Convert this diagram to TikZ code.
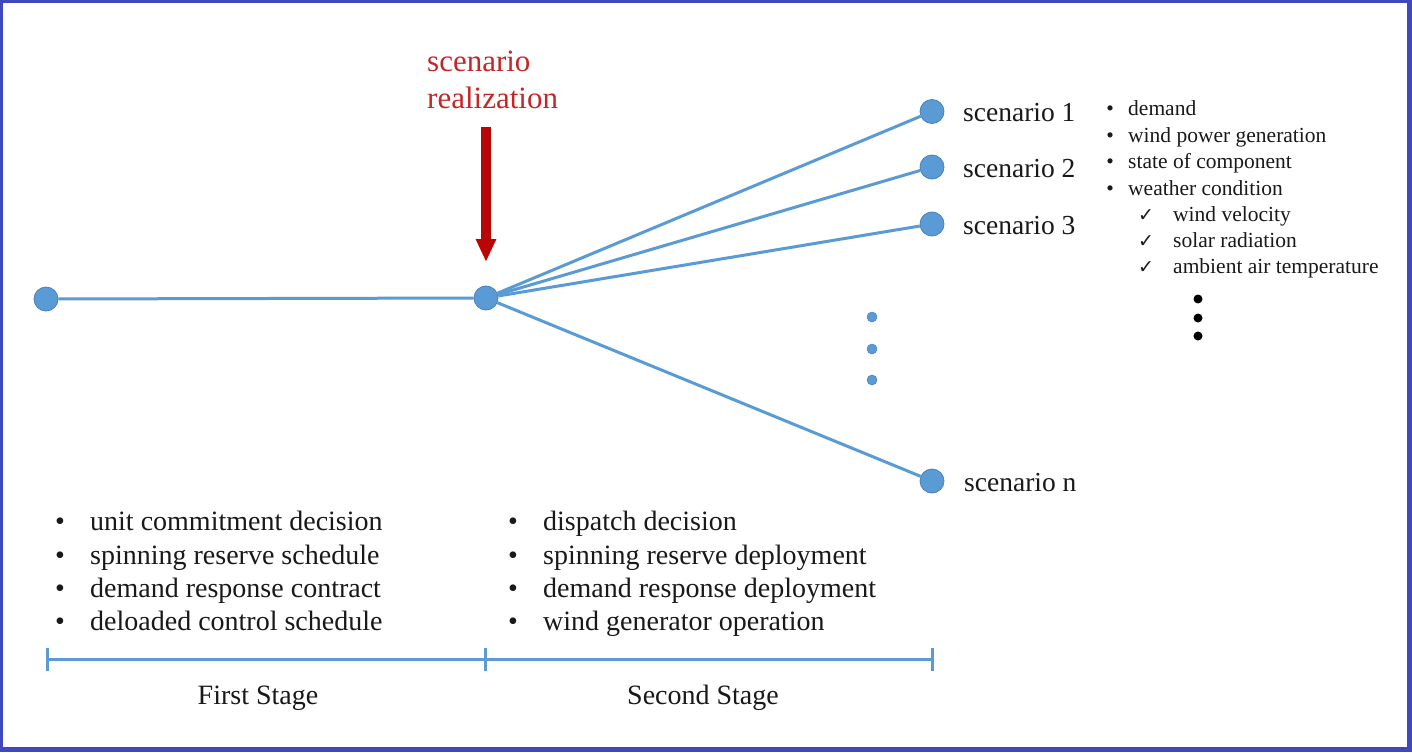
\documentclass[tikz,border=0pt]{standalone}
\usepackage{fontspec}
\setmainfont{Liberation Serif}
\newfontfamily\symfont{DejaVu Sans}
\usetikzlibrary{arrows.meta}
\definecolor{frameblue}{RGB}{64,72,192}
\definecolor{lineblue}{RGB}{91,155,213}
\definecolor{nodeedge}{RGB}{72,128,190}
\definecolor{arrred}{RGB}{185,5,5}
\definecolor{txtred}{RGB}{195,40,40}
\definecolor{txt}{RGB}{25,25,25}
\begin{document}
\begin{tikzpicture}[x=1pt,y=-1pt,
  bignode/.style={circle,fill=lineblue,draw=nodeedge,line width=0.8pt,minimum size=24pt,inner sep=0pt},
  smalldot/.style={circle,fill=lineblue,draw=nodeedge,line width=0.5pt,minimum size=10pt,inner sep=0pt},
  blackdot/.style={circle,fill=black,minimum size=9pt,inner sep=0pt},
  branch/.style={draw=lineblue,line width=3pt},
  lbl/.style={anchor=base west,inner sep=0pt,text=txt},
  bul/.style={anchor=base,inner sep=0pt,text=txt},
  bigtext/.style={font=\fontsize{28}{33}\selectfont},
  scentext/.style={font=\fontsize{27.5}{33}\selectfont},
  smalltext/.style={font=\fontsize{21.5}{26}\selectfont},
  redtext/.style={anchor=base west,inner sep=0pt,text=txtred,font=\fontsize{31}{36}\selectfont}]
\fill[frameblue] (0,0) rectangle (1412,752);
\fill[white] (3,3) rectangle (1407,747);
\useasboundingbox (0,0) rectangle (1412,752);

% tree nodes
\node[bignode] (root) at (46,299) {};
\node[bignode] (mid) at (486,298) {};
\node[bignode] (s1) at (932,111.5) {};
\node[bignode] (s2) at (932,167) {};
\node[bignode] (s3) at (932,224) {};
\node[bignode] (sn) at (932,481) {};
\draw[branch] (root) -- (mid);
\draw[branch] (mid) -- (s1);
\draw[branch] (mid) -- (s2);
\draw[branch] (mid) -- (s3);
\draw[branch] (mid) -- (sn);

% blue ellipsis dots
\node[smalldot] (d1) at (872,317) {};
\node[smalldot] (d2) at (872,349) {};
\node[smalldot] (d3) at (872,380) {};

% scenario labels
\node[lbl,scentext] (l1) at (963,121.5) {scenario 1};
\node[lbl,scentext] (l2) at (963,177) {scenario 2};
\node[lbl,scentext] (l3) at (963,234) {scenario 3};
\node[lbl,scentext] (ln) at (964,491) {scenario n};

% red arrow and label
\node[redtext] (sr1) at (427,71) {scenario};
\node[redtext] (sr2) at (427,108) {realization};
\coordinate (atop) at (486,127);
\coordinate (atip) at (486,262);
\draw[arrred,line width=9.5pt,-{Triangle[width=19pt,length=23pt]}] (atop) -- (atip);

% right list
\foreach \t [count=\i] in {demand, wind power generation, state of component, weather condition} {
  \node[bul,smalltext] (rb\i) at ({1110},{89+26.5*\i}) {•};
  \node[lbl,smalltext] (rt\i) at ({1128},{89+26.5*\i}) {\t};
}
\foreach \t [count=\i] in {wind velocity, solar radiation, ambient air temperature} {
  \node[bul,font=\symfont\fontsize{19}{22}\selectfont] (cb\i) at ({1146},{195+26*\i}) {✓};
  \node[lbl,smalltext] (ct\i) at ({1173},{195+26*\i}) {\t};
}
\node[blackdot] (k1) at (1198,299) {};
\node[blackdot] (k2) at (1198,318) {};
\node[blackdot] (k3) at (1198,336) {};

% bottom lists
\foreach \t [count=\i] in {unit commitment decision, spinning reserve schedule, demand response contract, deloaded control schedule} {
  \node[bul,bigtext] (fb\i) at ({60},{497.3+33.4*\i}) {•};
  \node[lbl,bigtext] (ft\i) at ({90},{497.3+33.4*\i}) {\t};
}
\foreach \t [count=\i] in {dispatch decision, spinning reserve deployment, demand response deployment, wind generator operation} {
  \node[bul,bigtext] (sb\i) at ({513},{497.3+33.4*\i}) {•};
  \node[lbl,bigtext] (st\i) at ({543},{497.3+33.4*\i}) {\t};
}

% stage bar
\coordinate (b1) at (47,659);
\coordinate (b2) at (485,659);
\coordinate (b3) at (932,659);
\draw[branch] (b1) -- (b3);
\draw[branch] ([yshift=-11.5pt]b1) -- ([yshift=11.5pt]b1);
\draw[branch] ([yshift=-11.5pt]b2) -- ([yshift=11.5pt]b2);
\draw[branch] ([yshift=-11.5pt]b3) -- ([yshift=11.5pt]b3);
\node[anchor=base,inner sep=0pt,text=txt,bigtext] (first) at (258,704) {First Stage};
\node[anchor=base,inner sep=0pt,text=txt,bigtext] (second) at (703,704) {Second Stage};
\end{tikzpicture}
\end{document}
